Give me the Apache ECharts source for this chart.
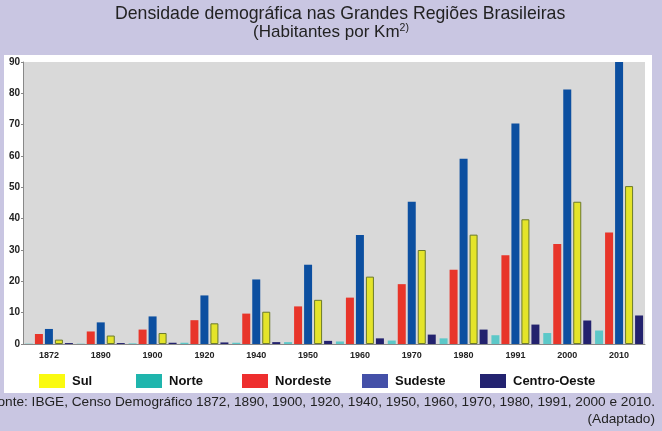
<!DOCTYPE html>
<html>
<head>
<meta charset="utf-8">
<script src="https://cdn.jsdelivr.net/npm/echarts/dist/echarts.min.js"></script>
<style>
html, body { margin: 0; padding: 0; background: #c9c6e2; }
#grafico { width: 662px; height: 431px; }
</style>
</head>
<body>
<div id="grafico"></div>
<script>
var anos = ['1872', '1890', '1900', '1920', '1940', '1950', '1960', '1970', '1980', '1991', '2000', '2010'];
var norte = [0.1, 0.1, 0.2, 0.4, 0.4, 0.6, 0.8, 1.1, 1.8, 2.8, 3.5, 4.3];
var nordeste = [3.2, 4.0, 4.6, 7.6, 9.7, 12.0, 14.8, 19.1, 23.7, 28.3, 31.9, 35.6];
var sudeste = [4.8, 6.9, 8.8, 15.5, 20.6, 25.3, 34.8, 45.4, 59.1, 70.4, 81.2, 90];
var sul = [1.4, 2.7, 3.5, 6.6, 10.3, 14.1, 21.5, 30.0, 34.9, 39.8, 45.4, 50.4];
var centroOeste = [0.3, 0.3, 0.4, 0.5, 0.6, 1.0, 1.8, 3.0, 4.6, 6.2, 7.5, 9.1];
var yTicks = [0, 10, 20, 30, 40, 50, 60, 70, 80, 90];

var fonte = 'Liberation Sans, Arial, sans-serif';

// legenda: uma por item, para acertar a posicao de cada caixinha
function legenda(nome, cor, x) {
    return {
        left: x,
        top: 369,
        itemWidth: 26,
        itemHeight: 14,
        icon: 'rect',
        itemGap: 0,
        selectedMode: false,
        textStyle: { fontFamily: fonte, fontWeight: 'bold', fontSize: 13, color: '#111', padding: [0, 0, 0, 2] },
        data: [{ name: nome, itemStyle: { color: cor, borderWidth: 0 } }]
    };
}

function barra(nome, dados, cor, borda) {
    return {
        name: nome,
        type: 'bar',
        barWidth: 8,
        barGap: '25%',
        itemStyle: { color: cor, borderColor: borda || cor, borderWidth: borda ? 1 : 0 },
        data: dados
    };
}

var chart = echarts.init(document.getElementById('grafico'));
chart.setOption({
    backgroundColor: '#c9c6e2',
    animation: false,
    title: [{
        text: 'Densidade demográfica nas Grandes Regiões Brasileiras',
        left: 110,
        top: 0,
        textStyle: { fontFamily: fonte, fontWeight: 'normal', fontSize: 17.7, color: '#222' }
    }, {
        text: '(Habitantes por Km{sup|2)}',
        left: 'center',
        top: 18,
        textStyle: {
            fontFamily: fonte, fontWeight: 'normal', fontSize: 17, color: '#222',
            rich: { sup: { fontFamily: fonte, fontSize: 10.5, color: '#222', verticalAlign: 'top', padding: [0, 0, 8, 0] } }
        }
    }],
    graphic: [{
        type: 'rect',
        z: -10,
        shape: { x: 4, y: 55, width: 648, height: 338 },
        style: { fill: '#ffffff' }
    }, {
        type: 'text',
        right: 7,
        top: 395,
        style: { text: 'Fonte: IBGE, Censo Demográfico 1872, 1890, 1900, 1920, 1940, 1950, 1960, 1970, 1980, 1991, 2000 e 2010.', fontFamily: fonte, fontSize: 13.65, fill: '#222' }
    }, {
        type: 'text',
        right: 7,
        top: 412,
        style: { text: '(Adaptado)', fontFamily: fonte, fontSize: 13.65, fill: '#222' }
    }],
    legend: [
        legenda('Sul', '#fafa10', 34),
        legenda('Norte', '#1fb5ad', 131),
        legenda('Nordeste', '#ee2e2e', 237),
        legenda('Sudeste', '#4450a8', 357),
        legenda('Centro-Oeste', '#232370', 475)
    ],
    grid: {
        left: 23,
        right: 17,
        top: 62,
        bottom: 87,
        show: true,
        backgroundColor: '#d9d9d9',
        borderWidth: 0
    },
    xAxis: {
        type: 'category',
        data: anos,
        axisLine: { lineStyle: { color: '#888' } },
        axisTick: { show: false },
        axisLabel: { fontFamily: fonte, fontWeight: 'bold', fontSize: 9, color: '#222', margin: 7 }
    },
    yAxis: {
        type: 'value',
        min: yTicks[0],
        max: yTicks[yTicks.length - 1],
        interval: 10,
        splitLine: { show: false },
        axisLine: { show: true, lineStyle: { color: '#888' } },
        axisTick: { show: true, length: 2, lineStyle: { color: '#888' } },
        axisLabel: { fontFamily: fonte, fontWeight: 'bold', fontSize: 10, color: '#222', margin: 3 }
    },
    series: [
        barra('Norte', norte, '#5cc8c8'),
        barra('Nordeste', nordeste, '#e8352a'),
        barra('Sudeste', sudeste, '#0c4fa0'),
        barra('Sul', sul, '#e4e42a', '#6b7a2a'),
        barra('Centro-Oeste', centroOeste, '#23226e')
    ]
});
</script>
</body>
</html>
